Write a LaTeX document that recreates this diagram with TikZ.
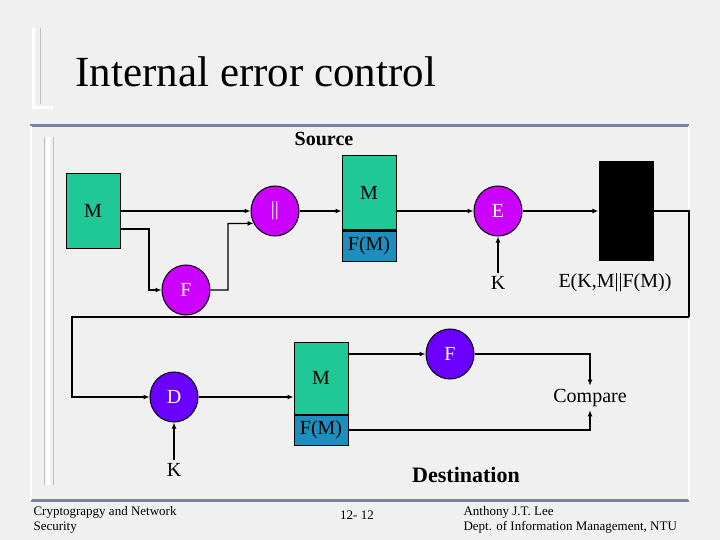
\documentclass[tikz,border=0pt]{standalone}
\usepackage{fontspec}
\setmainfont{Liberation Serif}
\usetikzlibrary{arrows.meta,shapes.geometric}
\definecolor{boxgreen}{HTML}{1FC896}
\definecolor{boxblue}{HTML}{1C8FBF}
\definecolor{magel}{HTML}{CC00FF}
\definecolor{violel}{HTML}{6A00FF}
\definecolor{frameblue}{HTML}{7A7FA8}
\begin{document}
\begin{tikzpicture}[x=1pt,y=-1pt,
  lbl/.style={font=\fontsize{20}{22}\selectfont},
  gbox/.style={draw=black,line width=1pt,fill=boxgreen,inner sep=0pt,font=\fontsize{20}{22}\selectfont},
  bbox/.style={draw=black,line width=1pt,fill=boxblue,inner sep=0pt,font=\fontsize{20}{22}\selectfont},
  mel/.style={ellipse,draw=black,line width=1pt,fill=magel,text=white,minimum width=48pt,minimum height=50pt,inner sep=0pt,font=\fontsize{20}{22}\selectfont},
  vel/.style={mel,fill=violel},
  wire/.style={line width=1.2pt},
  arr/.style={wire,-{Latex[length=6pt,width=5pt]}}]
\useasboundingbox (0,0) rectangle (720,540);
\fill[gray!12] (0,0) rectangle (720,540);
% slide decorations
\draw[white,line width=3pt] (33,28) -- (33,108) -- (53,108);
\draw[gray!50,line width=1pt] (40,28) -- (40,104) ;
\draw[frameblue,line width=3pt] (30,126) -- (689,126);
\draw[frameblue,line width=3pt] (31,500) -- (689,500);
\draw[white,line width=1.5pt] (31,126) -- (31,500) (689,126) -- (689,500);
\draw[white,line width=4pt] (48,137) -- (48,485);
\draw[gray!50,line width=0.8pt] (44,137) -- (44,485) (53,137) -- (53,485);
\node[anchor=west,font=\fontsize{43}{46}\selectfont] (title) at (72,72) {Internal error control};
\node[font=\bfseries\fontsize{20}{22}\selectfont] (src) at (324,139) {Source};
\node[font=\bfseries\fontsize{22}{24}\selectfont] (dst) at (466,475) {Destination};
% source
\node[gbox,minimum width=54pt,minimum height=74pt] (m1) at (93,211) {M};
\node[mel] (cat) at (275,211) {||};
\node[mel] (f1) at (186,290) {F};
\node[gbox,minimum width=54pt,minimum height=74pt] (m2) at (369,193) {M};
\node[bbox,minimum width=54pt,minimum height=30pt,anchor=north] (fm2) at (m2.south) {F(M)};
\node[mel] (e) at (498,211) {E};
\node[fill=black,minimum width=55pt,minimum height=100pt,inner sep=0pt] (blk) at (626,211) {};
\node[lbl] (k1) at (498,283) {K};
\node[lbl] (ek) at (615,283) {E(K,M||F(M))};
\draw[arr] (m1.east) -- (cat.west);
\draw[arr] (m1.east |- 0,229) -| (149,290) -- (f1.west);
\draw[arr] (f1.east) -| (228,223.5) -- (cat.210);
\draw[arr] (cat.east) -- (m2.west |- cat);
\draw[arr] (m2.east |- e) -- (e.west);
\draw[arr] (e.east) -- (blk.west);
\draw[arr] (k1.north) -- (e.south);
% destination
\node[vel] (d) at (174,397) {D};
\node[gbox,minimum width=54pt,minimum height=72pt] (m3) at (321,378) {M};
\node[bbox,minimum width=54pt,minimum height=30pt,anchor=north] (fm3) at (m3.south) {F(M)};
\node[vel] (f2) at (450,354) {F};
\node[lbl] (cmp) at (590,398) {Compare};
\node[lbl] (k2) at (174,470) {K};
\coordinate (loopa) at (689,317);
\draw[wire] (blk.east) -| (loopa);
\draw[arr] (loopa) -- (72,317) |- (d.west);
\draw[arr] (d.east) -- (m3.west |- d);
\draw[arr] (d.south |- k2.north) -- (d.south);
\draw[arr] (m3.east |- f2) -- (f2.west);
\draw[arr] (f2.east) -| (cmp.north);
\draw[arr] (fm3.east) -| (cmp.south);
% footer
\node[anchor=north west,align=left,font=\fontsize{13}{15}\selectfont] (ft1) at (30,503) {Cryptograpgy and Network\\Security};
\node[font=\fontsize{13}{15}\selectfont] (ft2) at (357,515) {12- 12};
\node[anchor=north west,align=left,font=\fontsize{13}{15}\selectfont] (ft3) at (460,503) {Anthony J.T. Lee\\Dept. of Information Management, NTU};
\end{tikzpicture}
\end{document}
